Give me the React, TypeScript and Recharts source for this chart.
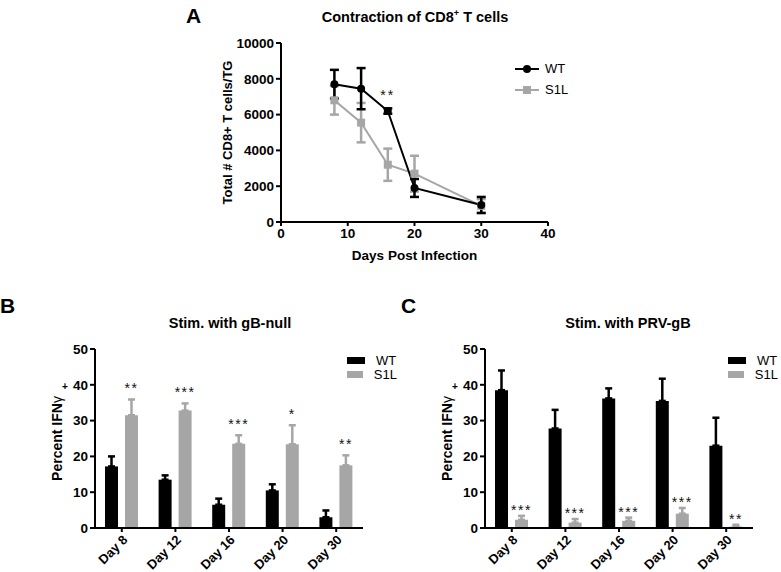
import React from 'react';
import {
  Bar,
  BarChart,
  ErrorBar,
  Label,
  LabelList,
  Legend,
  Line,
  LineChart,
  ReferenceDot,
  XAxis,
  YAxis,
} from 'recharts';

const FONT = '"Liberation Sans", Arial, Helvetica, sans-serif';
const BLACK = '#000000';
const GRAY = '#a6a6a6';

// Panel A: contraction of CD8+ T cells
const daysA = [8, 12, 16, 20, 30];
const wtA = [7700, 7450, 6200, 1900, 950];
const wtAErr = [800, 1150, 150, 500, 450];
const s1lA = [6800, 5550, 3200, 2700, 900];
const s1lAErr = [800, 1100, 900, 1000, 380];
const xTicksA = [0, 10, 20, 30, 40];
const yTicksA = [0, 2000, 4000, 6000, 8000, 10000];
const sigDayA = 16;
const sigTextA = '**';

// Panels B and C: percent IFNγ+
const dayLabels = ['Day 8', 'Day 12', 'Day 16', 'Day 20', 'Day 30'];
const yTicksBC = [0, 10, 20, 30, 40, 50];

const wtB = [17.2, 13.5, 6.5, 10.5, 3.0];
const wtBErr = [2.8, 1.2, 1.7, 1.7, 1.9];
const s1lB = [31.5, 32.8, 23.5, 23.4, 17.5];
const s1lBErr = [4.4, 2.0, 2.4, 5.3, 2.8];
const sigB = ['**', '***', '***', '*', '**'];

const wtC = [38.5, 27.8, 36.2, 35.5, 23.0];
const wtCErr = [5.5, 5.2, 2.8, 6.2, 7.8];
const s1lC = [2.3, 1.5, 2.0, 4.0, 0.4];
const s1lCErr = [1.1, 1.0, 0.9, 1.6, 0.5];
const sigC = ['***', '***', '***', '***', '**'];

const lineData = daysA.map((day, i) => ({
  day,
  wt: wtA[i],
  wtErr: wtAErr[i],
  s1l: s1lA[i],
  s1lErr: s1lAErr[i],
}));

function barData(wt: number[], wtErr: number[], s1l: number[], s1lErr: number[], sig: string[]) {
  return dayLabels.map((name, i) => ({
    name,
    wt: wt[i],
    wtErr: [0, wtErr[i]],
    s1l: s1l[i],
    s1lErr: [0, s1lErr[i]],
    sig: sig[i],
  }));
}

const dataB = barData(wtB, wtBErr, s1lB, s1lBErr, sigB);
const dataC = barData(wtC, wtCErr, s1lC, s1lCErr, sigC);

const tickStyle = { fill: BLACK, fontSize: 13.5, fontWeight: 'bold', fontFamily: FONT };
const axisLine = { stroke: BLACK, strokeWidth: 2 };
const tickLine = { stroke: BLACK, strokeWidth: 2 };

// stars sit just above the S1L error bar cap
const starLabel = (vals: number[], errs: number[], lift: number) => (p: any) => {
  const { x, y, width, height, value, index } = p;
  if (!value) return null;
  const k = height / vals[index];
  const top = y - errs[index] * k;
  return (
    <text
      x={x + width / 2}
      y={top - lift}
      textAnchor="middle"
      fontFamily={FONT}
      fontSize={14}
      letterSpacing={1.5}
      fill="#111"
    >
      {value}
    </text>
  );
};

const ifnLabel = (p: any) => {
  const vb = p.viewBox || { x: 0, y: 0, width: 0, height: 0 };
  const x = vb.x + 17;
  const y = vb.y + vb.height / 2;
  return (
    <g>
      <text
        x={x}
        y={y}
        transform={`rotate(-90, ${x}, ${y})`}
        textAnchor="middle"
        dominantBaseline="central"
        fontFamily={FONT}
        fontSize={14}
        fontWeight="bold"
        fill={BLACK}
      >
        Percent IFN<tspan fontWeight="normal">γ</tspan>
      </text>
      <text
        x={x + 8}
        y={y - 52}
        textAnchor="middle"
        dominantBaseline="central"
        fontFamily={FONT}
        fontSize={10}
        fontWeight="bold"
        fill={BLACK}
      >
        +
      </text>
    </g>
  );
};

function BarLegend() {
  const items = [
    { name: 'WT', color: BLACK },
    { name: 'S1L', color: GRAY },
  ];
  return (
    <div style={{ fontFamily: FONT, fontSize: 13, color: BLACK }}>
      {items.map((it) => (
        <div key={it.name} style={{ display: 'flex', alignItems: 'center', height: 14 }}>
          <span style={{ display: 'inline-block', width: 18, height: 7, background: it.color }} />
          <span style={{ marginLeft: 11 }}>{it.name}</span>
        </div>
      ))}
    </div>
  );
}

function LineLegend() {
  return (
    <div style={{ fontFamily: FONT, fontSize: 13, color: BLACK }}>
      <div style={{ display: 'flex', alignItems: 'center', height: 21 }}>
        <svg width={24} height={10}>
          <line x1={0} y1={5} x2={24} y2={5} stroke={BLACK} strokeWidth={2} />
          <circle cx={12} cy={5} r={4} fill={BLACK} />
        </svg>
        <span style={{ marginLeft: 6 }}>WT</span>
      </div>
      <div style={{ display: 'flex', alignItems: 'center', height: 21 }}>
        <svg width={24} height={10}>
          <line x1={0} y1={5} x2={24} y2={5} stroke={GRAY} strokeWidth={2} />
          <rect x={8} y={1} width={8} height={8} fill={GRAY} />
        </svg>
        <span style={{ marginLeft: 6 }}>S1L</span>
      </div>
    </div>
  );
}

function IfnChart({ data, s1l, s1lErr, lift, legendLeft }: any) {
  return (
    <BarChart
      width={391}
      height={282}
      data={data}
      margin={{ top: 59, right: 28, bottom: 4, left: 40 }}
      barSize={13}
      barGap={7}
    >
      <XAxis
        dataKey="name"
        height={40}
        axisLine={axisLine}
        tickLine={tickLine}
        tickSize={4}
        interval={0}
        tick={{ ...tickStyle, fontSize: 13, angle: -45, textAnchor: 'end' }}
      />
      <YAxis
        width={55}
        domain={[0, 50]}
        ticks={yTicksBC}
        axisLine={axisLine}
        tickLine={tickLine}
        tickSize={5}
        tick={tickStyle}
      >
        <Label content={ifnLabel} />
      </YAxis>
      <Legend
        layout="vertical"
        align="center"
        verticalAlign="middle"
        content={() => <BarLegend />}
        wrapperStyle={{ left: legendLeft, top: 63, width: 50, height: 30 }}
      />
      <Bar dataKey="wt" name="WT" fill={BLACK} isAnimationActive={false}>
        <ErrorBar dataKey="wtErr" width={3.5} strokeWidth={2.5} stroke={BLACK} direction="y" />
      </Bar>
      <Bar dataKey="s1l" name="S1L" fill={GRAY} isAnimationActive={false}>
        <ErrorBar dataKey="s1lErr" width={3.5} strokeWidth={2.5} stroke={GRAY} direction="y" />
        <LabelList dataKey="sig" content={starLabel(s1l, s1lErr, lift)} />
      </Bar>
    </BarChart>
  );
}

const abs = (left: number, top: number): React.CSSProperties => ({ position: 'absolute', left, top });

export default function App() {
  const titleStyle: React.CSSProperties = {
    fontFamily: FONT,
    fontSize: 14.5,
    fontWeight: 'bold',
    lineHeight: '18px',
    whiteSpace: 'nowrap',
    transform: 'translateX(-50%)',
    color: BLACK,
  };
  const letterStyle: React.CSSProperties = {
    fontFamily: FONT,
    fontSize: 21,
    fontWeight: 'bold',
    lineHeight: '22px',
    color: BLACK,
  };

  return (
    <div style={{ position: 'absolute', left: 0, top: 0, width: 781, height: 572, background: '#fff' }}>
      <div style={{ ...abs(186, 5), ...letterStyle }}>A</div>
      <div style={{ ...abs(0, 295), ...letterStyle }}>B</div>
      <div style={{ ...abs(401, 295), ...letterStyle }}>C</div>

      <div style={{ ...abs(415, 8), ...titleStyle }}>
        Contraction of CD8<sup style={{ fontSize: 9, lineHeight: 0 }}>+</sup> T cells
      </div>
      <div style={{ ...abs(230, 314), ...titleStyle }}>Stim. with gB-null</div>
      <div style={{ ...abs(628, 314), ...titleStyle }}>Stim. with PRV-gB</div>

      <div style={abs(190, 0)}>
        <LineChart
          width={410}
          height={270}
          data={lineData}
          margin={{ top: 43, right: 52, bottom: 8, left: 31 }}
        >
          <XAxis
            dataKey="day"
            type="number"
            domain={[0, 40]}
            ticks={xTicksA}
            height={40}
            axisLine={axisLine}
            tickLine={tickLine}
            tickSize={4}
            tick={tickStyle}
          >
            <Label
              content={(p: any) => {
                const vb = p.viewBox || { x: 0, y: 0, width: 0, height: 0 };
                return (
                  <text
                    x={vb.x + vb.width / 2}
                    y={vb.y + 33}
                    textAnchor="middle"
                    dominantBaseline="central"
                    fontFamily={FONT}
                    fontSize={13.5}
                    fontWeight="bold"
                    fill={BLACK}
                  >
                    Days Post Infection
                  </text>
                );
              }}
            />
          </XAxis>
          <YAxis
            width={60}
            domain={[0, 10000]}
            ticks={yTicksA}
            axisLine={axisLine}
            tickLine={tickLine}
            tickSize={5}
            tick={tickStyle}
          >
            <Label
              content={(p: any) => {
                const vb = p.viewBox || { x: 0, y: 0, width: 0, height: 0 };
                const x = vb.x + 6;
                const y = vb.y + vb.height / 2;
                return (
                  <text
                    x={x}
                    y={y}
                    transform={`rotate(-90, ${x}, ${y})`}
                    textAnchor="middle"
                    dominantBaseline="central"
                    fontFamily={FONT}
                    fontSize={13}
                    fontWeight="bold"
                    fill={BLACK}
                  >
                    Total # CD8+ T cells/TG
                  </text>
                );
              }}
            />
          </YAxis>
          <Legend
            layout="vertical"
            align="center"
            verticalAlign="middle"
            content={() => <LineLegend />}
            wrapperStyle={{ left: 325, top: 58, width: 70, height: 42 }}
          />
          <Line
            dataKey="s1l"
            name="S1L"
            stroke={GRAY}
            strokeWidth={2}
            isAnimationActive={false}
            dot={(p: any) => (
              <rect key={`sq-${p.index}`} x={p.cx - 4} y={p.cy - 4} width={8} height={8} fill={GRAY} />
            )}
          >
            <ErrorBar dataKey="s1lErr" width={4.5} strokeWidth={2.5} stroke={GRAY} direction="y" />
          </Line>
          <Line
            dataKey="wt"
            name="WT"
            stroke={BLACK}
            strokeWidth={2}
            isAnimationActive={false}
            dot={{ r: 4, fill: BLACK, stroke: BLACK, strokeWidth: 0 }}
          >
            <ErrorBar dataKey="wtErr" width={4.5} strokeWidth={2.5} stroke={BLACK} direction="y" />
          </Line>
          <ReferenceDot
            x={sigDayA}
            y={wtA[daysA.indexOf(sigDayA)] + wtAErr[daysA.indexOf(sigDayA)]}
            r={0}
            stroke="none"
            fill="none"
            label={(p: any) => {
              const vb = p.viewBox || { x: 0, y: 0, width: 0, height: 0 };
              return (
                <text
                  x={vb.x + vb.width / 2}
                  y={vb.y - 8}
                  textAnchor="middle"
                  fontFamily={FONT}
                  fontSize={14}
                  letterSpacing={2}
                  fill="#111"
                >
                  {sigTextA}
                </text>
              );
            }}
          />
        </LineChart>
      </div>

      <div style={abs(0, 290)}>
        <IfnChart data={dataB} s1l={s1lB} s1lErr={s1lBErr} lift={6} legendLeft={347} />
      </div>
      <div style={abs(390, 290)}>
        <IfnChart data={dataC} s1l={s1lC} s1lErr={s1lCErr} lift={1} legendLeft={338} />
      </div>
    </div>
  );
}
